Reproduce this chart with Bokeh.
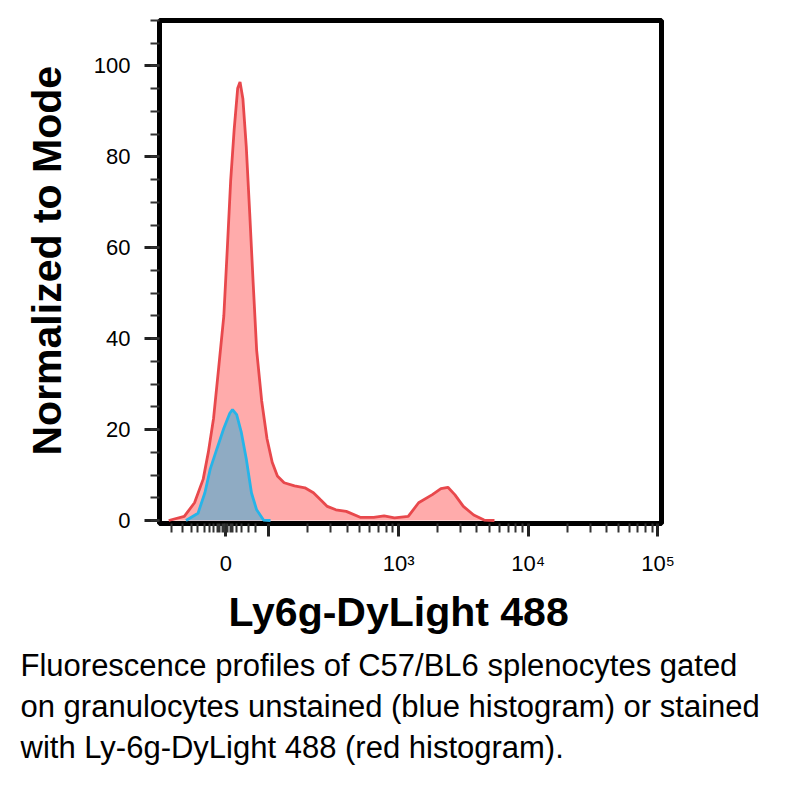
import numpy as np
from bokeh.plotting import figure
from bokeh.models import FixedTicker, Range1d, Title
from bokeh.embed import file_html
from bokeh.resources import INLINE

# x values are in display units of the logicle-like axis (decades: 10^2 -> 2, 10^3 -> 3 ...)
red_x = [1.227, 1.347, 1.426, 1.493, 1.533, 1.573, 1.613, 1.652, 1.679, 1.705, 1.732,
         1.759, 1.777, 1.799, 1.825, 1.852, 1.878, 1.905, 1.944, 1.985, 2.025, 2.065,
         2.117, 2.197, 2.277, 2.343, 2.396, 2.450, 2.516, 2.596, 2.703, 2.808, 2.888,
         2.968, 3.074, 3.154, 3.260, 3.326, 3.380, 3.433, 3.499, 3.579, 3.659, 3.739]
red_y = [0.0, 0.9, 3.9, 9.1, 15.1, 22.5, 33.8, 45.0, 59.9, 74.9, 86.1,
         95.1, 96.5, 92.8, 82.3, 67.4, 52.4, 37.5, 26.3, 18.0, 12.8, 9.8,
         8.3, 7.6, 7.2, 6.1, 4.6, 3.1, 2.35, 2.0, 0.7, 0.7, 1.0,
         0.6, 0.9, 3.9, 5.7, 7.0, 7.3, 5.7, 3.1, 1.2, 0.1, 0.0]

blue_x = [1.360, 1.453, 1.506, 1.547, 1.599, 1.652, 1.698, 1.719, 1.751, 1.786,
          1.825, 1.865, 1.905, 1.958, 2.012]
blue_y = [0.0, 1.6, 6.1, 11.3, 15.8, 20.3, 23.6, 24.4, 23.3, 19.5,
          13.6, 6.1, 2.35, 0.1, 0.0]

x_tick_pos = [1.668, 2, 3, 4, 5]
x_tick_labels = ["0", "", "10\u00b3", "10\u2074", "10\u2075"]
x_zero_cluster = [1.25, 1.33, 1.40, 1.45, 1.50, 1.54, 1.57, 1.60, 1.62, 1.64,
                  1.655, 1.68, 1.70, 1.72, 1.75, 1.79, 1.84, 1.90]
y_tick_pos = [0, 20, 40, 60, 80, 100]

x_label = "Ly6g-DyLight 488"
y_label = "Normalized to Mode"
caption = ["Fluorescence profiles of C57/BL6 splenocytes gated",
           "on granulocytes unstained (blue histogram) or stained",
           "with Ly-6g-DyLight 488 (red histogram)."]

FONT = "Liberation Sans"

p = figure(frame_width=502, frame_height=503, output_backend="svg", toolbar_location=None,
           x_range=Range1d(1.156, 5.027), y_range=Range1d(-0.66, 110),
           min_border_left=159, min_border_right=130, min_border_top=20,
           min_border_bottom=270)
p.background_fill_color = "white"
p.border_fill_color = "white"
p.xgrid.visible = False
p.ygrid.visible = False
p.outline_line_color = "black"
p.outline_line_width = 5
p.outline_line_alpha = 1.0

# histograms
p.varea(x=red_x, y1=0, y2=red_y, fill_color="#ffabab")
p.line(red_x, red_y, line_color="#e8484c", line_width=2.8)
p.varea(x=blue_x, y1=0, y2=blue_y, fill_color="#8fabc3")
p.line(blue_x, blue_y, line_color="#27b4e8", line_width=2.8)

# x axis
log_minor = [d + np.log10(m) for d in (2, 3, 4) for m in range(2, 10)]
xa = p.xaxis[0]
xa.ticker = FixedTicker(ticks=x_tick_pos, minor_ticks=x_zero_cluster + log_minor)
xa.major_label_overrides = {t: l for t, l in zip(x_tick_pos, x_tick_labels)}
xa.axis_line_color = None
xa.major_tick_in = 0
xa.major_tick_out = 13
xa.minor_tick_in = 0
xa.minor_tick_out = 9
xa.major_tick_line_width = 3
xa.minor_tick_line_width = 2
xa.major_tick_line_color = "#222222"
xa.minor_tick_line_color = "#333333"
xa.major_label_standoff = 14
xa.major_label_text_font = FONT
xa.major_label_text_font_size = "22px"
xa.major_label_text_color = "black"

# y axis
ya = p.yaxis[0]
ya.ticker = FixedTicker(ticks=y_tick_pos, minor_ticks=list(range(0, 111, 5)))
ya.axis_line_color = None
ya.major_tick_in = 0
ya.major_tick_out = 15
ya.minor_tick_in = 0
ya.minor_tick_out = 9
ya.major_tick_line_width = 3
ya.minor_tick_line_width = 2
ya.major_tick_line_color = "#222222"
ya.minor_tick_line_color = "#333333"
ya.major_label_standoff = 14
ya.major_label_text_font = FONT
ya.major_label_text_font_size = "22px"
ya.major_label_text_color = "black"

# axis titles
p.add_layout(Title(text=y_label, align="left", offset=68, standoff=41,
                   text_font=FONT, text_font_style="bold", text_font_size="41px",
                   text_color="black"), "left")
p.add_layout(Title(text=x_label, align="left", offset=69, standoff=17,
                   text_font=FONT, text_font_style="bold", text_font_size="41px",
                   text_color="black"), "below")

for line in caption:
    p.add_layout(Title(text=line, align="left", offset=-139, standoff=4,
                       text_font=FONT, text_font_style="normal", text_font_size="31px",
                       text_color="black"), "below")

open("out.html", "w").write(file_html(p, INLINE))
